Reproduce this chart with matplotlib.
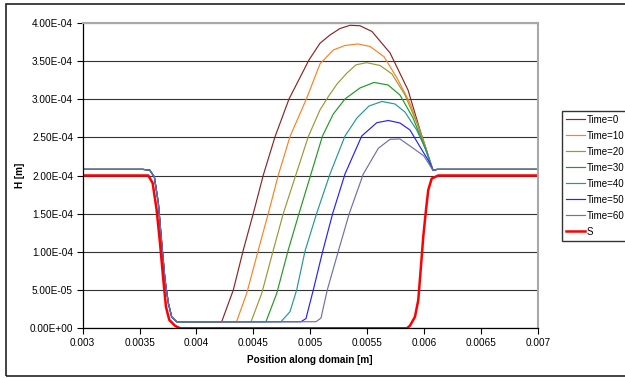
import matplotlib
matplotlib.use('Agg')
import matplotlib.pyplot as plt
from matplotlib.patches import Rectangle
from matplotlib.ticker import FuncFormatter

plt.rcParams['font.family'] = ['Liberation Sans', 'DejaVu Sans']

# shared flat / drop at the left and rejoin at the right (all Time curves)
left_x = [0.003, 0.00353, 0.00359, 0.00363, 0.003665, 0.003695, 0.003724, 0.003753, 0.003782, 0.003826]
left_y = [2.08e-4, 2.08e-4, 2.07e-4, 1.98e-4, 1.64e-4, 1.11e-4, 6.3e-5, 3.3e-5, 1.5e-5, 8.6e-6]
right_x = [0.00608, 0.006115, 0.007]
right_y = [2.066e-4, 2.08e-4, 2.08e-4]

t0_x = [0.004222, 0.004324, 0.004412, 0.0045, 0.004588, 0.004691, 0.004814, 0.004989, 0.005086, 0.005174,
        0.005262, 0.00535, 0.005438, 0.005543, 0.005702, 0.00586, 0.005965]
t0_y = [8.6e-6, 5.01e-5, 1.025e-4, 1.505e-4, 2.007e-4, 2.508e-4, 3.002e-4, 3.512e-4, 3.731e-4, 3.839e-4,
        3.924e-4, 3.966e-4, 3.96e-4, 3.885e-4, 3.604e-4, 3.119e-4, 2.596e-4]

t10_x = [0.004352, 0.004442, 0.004544, 0.004632, 0.00472, 0.004822, 0.004969, 0.005086, 0.005203, 0.005306,
         0.00542, 0.005526, 0.005649, 0.005763, 0.005877, 0.005994]
t10_y = [8.6e-6, 4.58e-5, 1.025e-4, 1.505e-4, 2.007e-4, 2.508e-4, 3.011e-4, 3.46e-4, 3.643e-4, 3.702e-4,
         3.722e-4, 3.689e-4, 3.555e-4, 3.276e-4, 2.949e-4, 2.465e-4]

t20_x = [0.00448, 0.004574, 0.004676, 0.004764, 0.004875, 0.004983, 0.005086, 0.005159, 0.005236, 0.005321,
         0.005403, 0.005497, 0.005614, 0.005719, 0.005833, 0.005939]
t20_y = [8.6e-6, 4.58e-5, 1.025e-4, 1.505e-4, 2.013e-4, 2.508e-4, 2.858e-4, 3.032e-4, 3.198e-4, 3.338e-4,
         3.449e-4, 3.477e-4, 3.44e-4, 3.329e-4, 3.054e-4, 2.683e-4]

t30_x = [0.004611, 0.004706, 0.004807, 0.004902, 0.005007, 0.005108, 0.005203, 0.005306, 0.005438, 0.005561,
         0.005684, 0.005789, 0.005904, 0.006009]
t30_y = [8.6e-6, 4.58e-5, 1.025e-4, 1.505e-4, 2.02e-4, 2.517e-4, 2.805e-4, 3.002e-4, 3.146e-4, 3.218e-4,
         3.185e-4, 3.054e-4, 2.753e-4, 2.36e-4]

t40_x = [0.004743, 0.004822, 0.004881, 0.004954, 0.005057, 0.005174, 0.005306, 0.005411, 0.005517, 0.005631,
         0.005745, 0.005833, 0.005936, 0.006018]
t40_y = [8.6e-6, 2.17e-5, 5.01e-5, 1.008e-4, 1.505e-4, 2.02e-4, 2.517e-4, 2.753e-4, 2.91e-4, 2.969e-4,
         2.936e-4, 2.831e-4, 2.596e-4, 2.334e-4]

t50_x = [0.004919, 0.004963, 0.005027, 0.00511, 0.005198, 0.005306, 0.005453, 0.005585, 0.005687, 0.005789,
         0.005877, 0.005965, 0.006036]
t50_y = [8.6e-6, 1.28e-5, 5.01e-5, 1.008e-4, 1.505e-4, 2.02e-4, 2.517e-4, 2.691e-4, 2.72e-4, 2.687e-4,
         2.596e-4, 2.377e-4, 2.203e-4]

t60_x = [0.005051, 0.005095, 0.00515, 0.005247, 0.005344, 0.005467, 0.005599, 0.005702, 0.005789, 0.005906, 0.006]
t60_y = [8.6e-6, 1.35e-5, 5.01e-5, 1.008e-4, 1.505e-4, 2.02e-4, 2.356e-4, 2.474e-4, 2.478e-4, 2.356e-4, 2.255e-4]

s_x = [0.003, 0.003577, 0.003615, 0.00365, 0.00368, 0.003709, 0.003732, 0.003761, 0.003811, 0.003855,
       0.00585, 0.005877, 0.005921, 0.00595, 0.005971, 0.005994, 0.006018, 0.006038, 0.006068, 0.006126, 0.007]
s_y = [2.0e-4, 2.0e-4, 1.9e-4, 1.55e-4, 1.11e-4, 6.3e-5, 2.8e-5, 1.1e-5, 3.4e-6, 0.0,
       0.0, 3.4e-6, 1.5e-5, 3.7e-5, 7.6e-5, 1.2e-4, 1.55e-4, 1.81e-4, 1.96e-4, 2.0e-4, 2.0e-4]

labels = ['Time=0', 'Time=10', 'Time=20', 'Time=30', 'Time=40', 'Time=50', 'Time=60']
colors = ['#8B2525', '#FF8020', '#999933', '#229922', '#229999', '#2222FF', '#7070AA']
mid_x = [t0_x, t10_x, t20_x, t30_x, t40_x, t50_x, t60_x]
mid_y = [t0_y, t10_y, t20_y, t30_y, t40_y, t50_y, t60_y]

x_ticks = [0.003, 0.0035, 0.004, 0.0045, 0.005, 0.0055, 0.006, 0.0065, 0.007]
x_ticklabels = ['0.003', '0.0035', '0.004', '0.0045', '0.005', '0.0055', '0.006', '0.0065', '0.007']
y_ticks = [0, 5e-5, 1e-4, 1.5e-4, 2e-4, 2.5e-4, 3e-4, 3.5e-4, 4e-4]

W, H = 625, 378
fig = plt.figure(figsize=(W / 100, H / 100), dpi=100)
ax = fig.add_axes([82.7 / W, 1 - 328.3 / H, 455 / W, 305.6 / H])

for xs, ys, lab, c in zip(mid_x, mid_y, labels, colors):
    ax.plot(left_x + xs + right_x, left_y + ys + right_y, color=c, lw=0.85, label=lab)
ax.plot(s_x, s_y, color='#FF0000', lw=1.8, label='S')

ax.set_xlim(0.003, 0.007)
ax.set_ylim(0, 4e-4)
ax.set_xticks(x_ticks)
ax.set_xticklabels(x_ticklabels)
ax.set_yticks(y_ticks)
ax.yaxis.set_major_formatter(FuncFormatter(lambda v, p: f'{v:.2E}'))
ax.tick_params(labelsize=7.2, length=4.5, width=0.8, direction='out', pad=2.5, colors='black')
ax.grid(axis='y', color='#333333', lw=0.8)
ax.set_axisbelow(True)
for side in ['top', 'right']:
    ax.spines[side].set_color('#A8A8A8')
    ax.spines[side].set_linewidth(1.5)
for side in ['left', 'bottom']:
    ax.spines[side].set_linewidth(0.9)

ax.set_xlabel('Position along domain [m]', fontsize=7.2, fontweight='bold')
ax.xaxis.set_label_coords(0.5, -0.087)
ax.set_ylabel('H [m]', fontsize=7.2, fontweight='bold', va='center')
ax.yaxis.set_label_coords(-0.138, 0.5)

leg = ax.legend(loc='upper left', bbox_to_anchor=(561.7 / W, 1 - 110.7 / H), bbox_transform=fig.transFigure,
                fontsize=7, frameon=True, fancybox=False, edgecolor='black', borderpad=0.4,
                labelspacing=0.62, handlelength=2.0, handletextpad=0.2, borderaxespad=0)
leg.get_frame().set_linewidth(1.0)

fig.patches.append(Rectangle((6 / W, 1 - 376 / H), 1.2, 372 / H, transform=fig.transFigure,
                             fill=False, edgecolor='#222222', lw=1.2, clip_on=False))

fig.savefig('out.png', dpi=100)
